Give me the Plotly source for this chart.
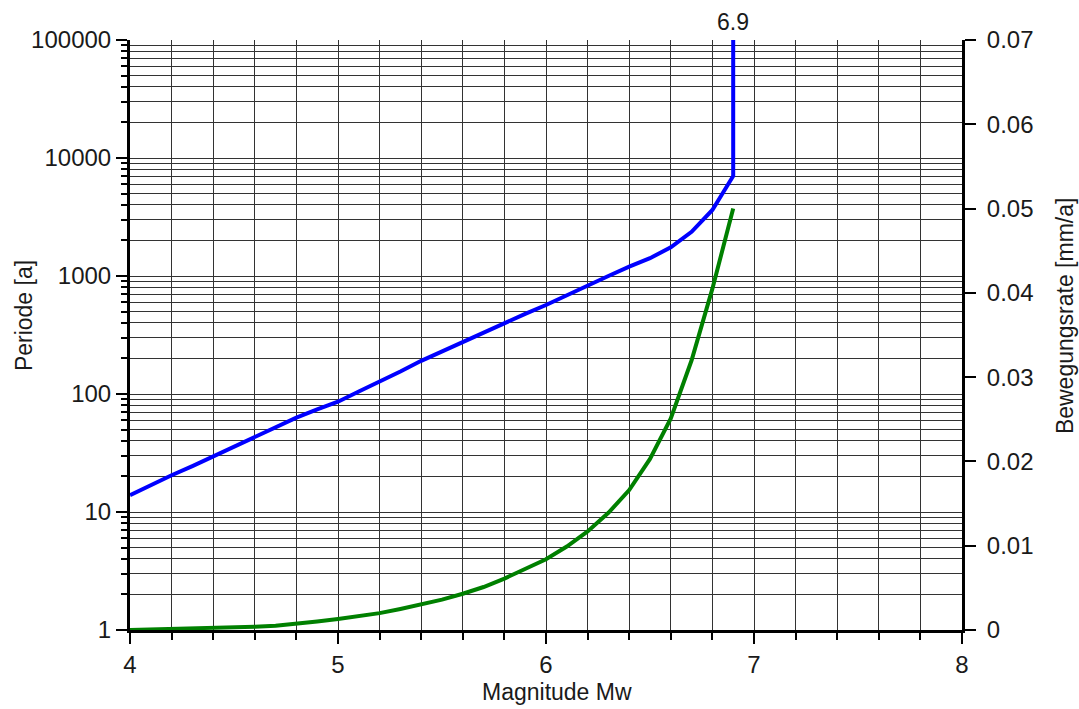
import plotly.graph_objects as go

# Magnitude (x) values
magnitude = [4.0, 4.1, 4.2, 4.3, 4.4, 4.5, 4.6, 4.7, 4.8, 4.9,
             5.0, 5.1, 5.2, 5.3, 5.4, 5.5, 5.6, 5.7, 5.8, 5.9,
             6.0, 6.1, 6.2, 6.3, 6.4, 6.5, 6.6, 6.7, 6.8, 6.9]

# Periode [a] (left, log axis)
periode_mag = magnitude + [6.9]
periode = [13.9, 17, 20.5, 24.5, 29.5, 36, 43.5, 52, 63, 74,
           86, 105, 127, 155, 191, 230, 277, 332, 398, 478,
           568, 690, 830, 1000, 1200, 1415, 1750, 2370, 3630, 7040,
           100000]

# Bewegungsrate [mm/a] (right axis)
rate = [0.0, 0.00005, 0.0001, 0.00015, 0.0002, 0.0003, 0.0004, 0.0005, 0.0007, 0.0010,
        0.0013, 0.0016, 0.0020, 0.0025, 0.0030, 0.0036, 0.0043, 0.0051, 0.0061, 0.0072,
        0.0084, 0.0099, 0.0117, 0.0139, 0.0166, 0.0203, 0.0251, 0.0320, 0.0405, 0.0500]

left_tickvals = [1, 10, 100, 1000, 10000, 100000]
left_ticktext = ["1", "10", "100", "1000", "10000", "100000"]
right_tickvals = [0, 0.01, 0.02, 0.03, 0.04, 0.05, 0.06, 0.07]
right_ticktext = ["0", "0.01", "0.02", "0.03", "0.04", "0.05", "0.06", "0.07"]
x_tickvals = [4, 5, 6, 7, 8]

FONT = "Arial, Liberation Sans, sans-serif"
GRID = "#333333"
TXT = "#1a1a1a"

fig = go.Figure()
fig.add_trace(go.Scatter(x=magnitude, y=rate, yaxis="y2", mode="lines",
                         line=dict(color="#008000", width=4), showlegend=False))
fig.add_trace(go.Scatter(x=periode_mag, y=periode, mode="lines",
                         line=dict(color="#0000FF", width=4), showlegend=False))

fig.update_layout(
    width=1079, height=709,
    margin=dict(l=130, r=117, t=40, b=79),
    paper_bgcolor="white", plot_bgcolor="white",
    font=dict(family=FONT, size=23, color=TXT),
    xaxis=dict(range=[4, 8], tickvals=x_tickvals, showgrid=True, gridcolor=GRID, gridwidth=1,
               showline=True, linecolor="black", linewidth=3,
               ticks="outside", ticklen=11, tickwidth=2, tickcolor="black",
               tickfont=dict(size=24, color=TXT),
               minor=dict(dtick=0.2, tick0=4, showgrid=True, gridcolor=GRID, gridwidth=1,
                          ticks="outside", ticklen=7, tickwidth=2, tickcolor="black"),
               zeroline=False),
    yaxis=dict(type="log", range=[0, 5], tickvals=left_tickvals, ticktext=left_ticktext,
               showgrid=True, gridcolor=GRID, gridwidth=1,
               showline=True, linecolor="black", linewidth=3,
               ticks="outside", ticklen=11, tickwidth=2, tickcolor="black",
               tickfont=dict(size=24, color=TXT),
               minor=dict(dtick="D1", showgrid=True, gridcolor=GRID, gridwidth=1,
                          ticks="outside", ticklen=6, tickwidth=2, tickcolor="black"),
               zeroline=False),
    yaxis2=dict(overlaying="y", side="right", range=[0, 0.07],
                tickvals=right_tickvals, ticktext=right_ticktext,
                showgrid=False, zeroline=False,
                showline=True, linecolor="black", linewidth=3,
                ticks="outside", ticklen=11, tickwidth=2, tickcolor="black",
                ticklabelstandoff=6,
                tickfont=dict(size=24, color=TXT)),
    annotations=[
        dict(text="Magnitude Mw", xref="paper", yref="paper", x=0.513, y=-0.105,
             xanchor="center", yanchor="middle", showarrow=False, font=dict(size=23)),
        dict(text="Periode [a]", xref="paper", yref="paper", x=-0.1274, y=0.532,
             xanchor="center", yanchor="middle", textangle=-90, showarrow=False,
             font=dict(size=23)),
        dict(text="Bewegungsrate [mm/a]", xref="paper", yref="paper", x=1.1238, y=0.532,
             xanchor="center", yanchor="middle", textangle=-90, showarrow=False,
             font=dict(size=23)),
        dict(text="6.9", xref="x", yref="paper", x=6.9, y=1.0297,
             xanchor="center", yanchor="middle", showarrow=False, font=dict(size=23)),
    ],
)

fig.write_html("out.html", config={"displayModeBar": False},
               post_script="document.body.style.margin='0';document.body.style.overflow='hidden';")
